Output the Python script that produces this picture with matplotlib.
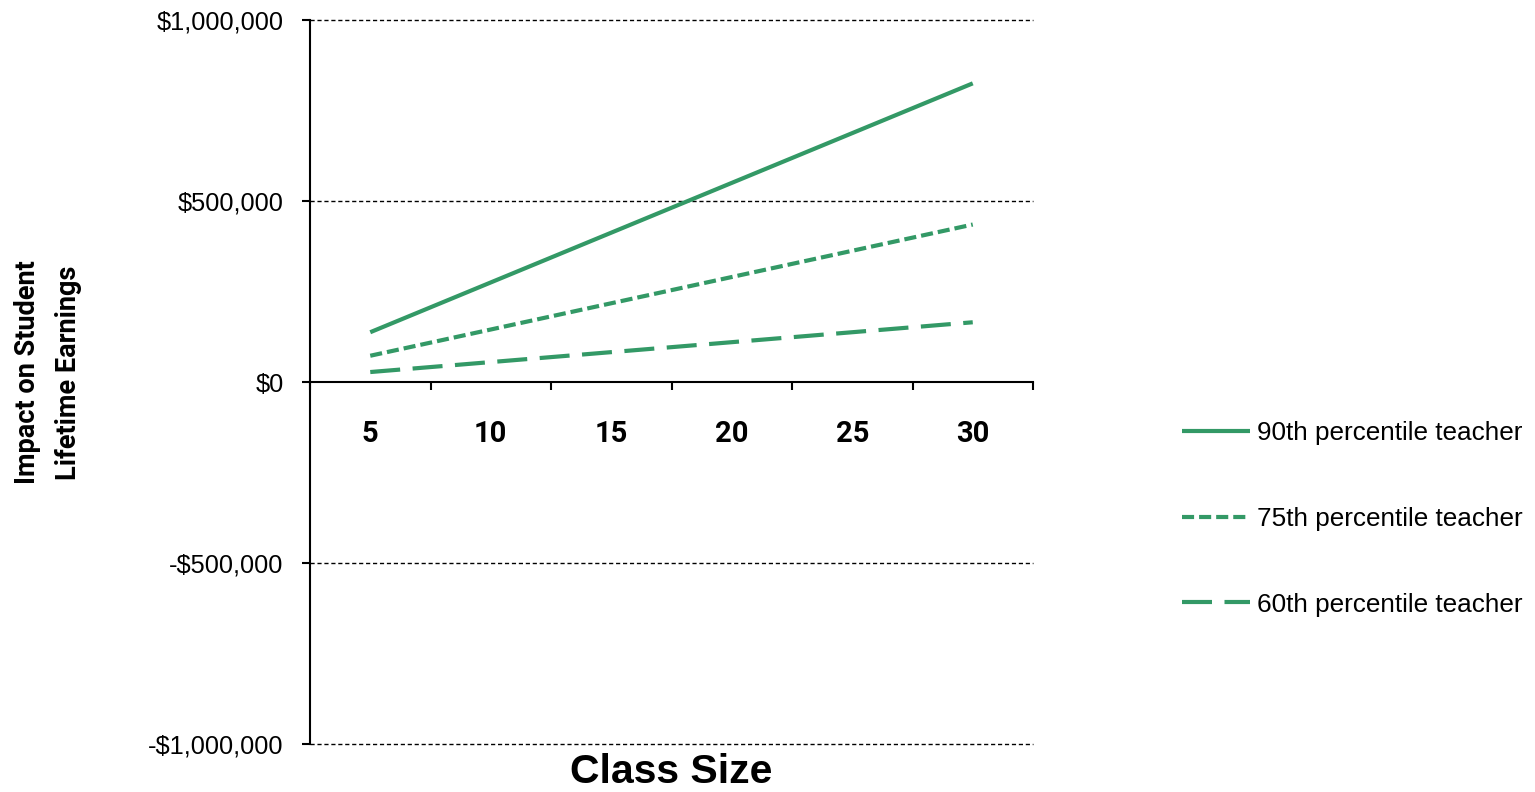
import matplotlib

matplotlib.use("Agg")

import matplotlib.pyplot as plt
from matplotlib import font_manager
from matplotlib.ticker import FixedLocator, FuncFormatter


GREEN = "#339966"

class_sizes = [5, 10, 15, 20, 25, 30]
p90 = [137500, 275000, 412500, 550000, 687500, 825000]
p75 = [72500, 145000, 217500, 290000, 362500, 435000]
p60 = [27500, 55000, 82500, 110000, 137500, 165000]
series_labels = ["90th percentile teacher", "75th percentile teacher", "60th percentile teacher"]
y_ticks = [-1000000, -500000, 0, 500000, 1000000]

plt.rcParams.update({"font.family": ["Liberation Sans", "DejaVu Sans"]})

installed = {f.name for f in font_manager.fontManager.ttflist}
NARROW = "Liberation Sans Narrow" if "Liberation Sans Narrow" in installed else "Roboto"


def money(v, _pos=None):
    s = f"${abs(v):,.0f}"
    return "-" + s if v < 0 else s


fig = plt.figure(figsize=(15.35, 7.92), dpi=100)
ax = fig.add_axes([310 / 1535, 48 / 792, 723 / 1535, 724 / 792])

# spine position first: moving a spine resets the axis ticks
for side in ["top", "right"]:
    ax.spines[side].set_visible(False)
ax.spines["bottom"].set_position(("data", 0))
ax.spines["left"].set_linewidth(1.5)
ax.spines["bottom"].set_linewidth(1.5)

ax.plot(class_sizes, p90, color=GREEN, lw=3, solid_capstyle="butt", label=series_labels[0])
ax.plot(class_sizes, p75, color=GREEN, lw=3, dashes=(2.9, 1.2), dash_capstyle="butt",
        label=series_labels[1])
ax.plot(class_sizes, p60, color=GREEN, lw=3, dashes=(7.2, 3.0), dash_capstyle="butt",
        label=series_labels[2])

ax.set_xlim(2.5, 32.5)
ax.set_ylim(-1000000, 1000000)

# category-style axis: labels centred on groups, tick marks between groups
ax.tick_params(axis="x", which="major", length=0, pad=27)
ax.tick_params(axis="x", which="minor", direction="out", length=6, width=1.5)
ax.xaxis.set_minor_locator(FixedLocator([2.5 + 5 * i for i in range(7)]))
ax.set_xticks(class_sizes, labels=[str(c) for c in class_sizes],
              family=NARROW, fontweight="bold", fontsize=21 if NARROW == "Roboto" else 22)

ax.tick_params(axis="y", direction="out", length=6, width=1.5, pad=13, labelsize=18.3)
ax.set_yticks(y_ticks)
ax.yaxis.set_major_formatter(FuncFormatter(money))

for y in y_ticks:
    if y != 0:
        ax.axhline(y, color="black", lw=1.0, dashes=(3, 2), zorder=0, clip_on=False)

ax.set_xlabel("Class Size", fontsize=29.5, fontweight="bold", labelpad=0)
ax.xaxis.set_label_coords(0.5, -0.038)
ax.xaxis.label.set_va("center")

ax.set_ylabel("Impact on Student\nLifetime Earnings", fontweight="bold", family=NARROW,
              fontsize=22 if NARROW != "Roboto" else 19.5, linespacing=1.7, va="center")
ax.yaxis.set_label_coords((48 - 310) / 723, 0.513)

fig.legend(loc="center left", bbox_to_anchor=(1182 / 1535, 1 - 519 / 792), frameon=False,
           fontsize=18.8, handlelength=2.6, handletextpad=0.27, labelspacing=2.36,
           borderpad=0, borderaxespad=0)

fig.savefig("out.png", dpi=100)
